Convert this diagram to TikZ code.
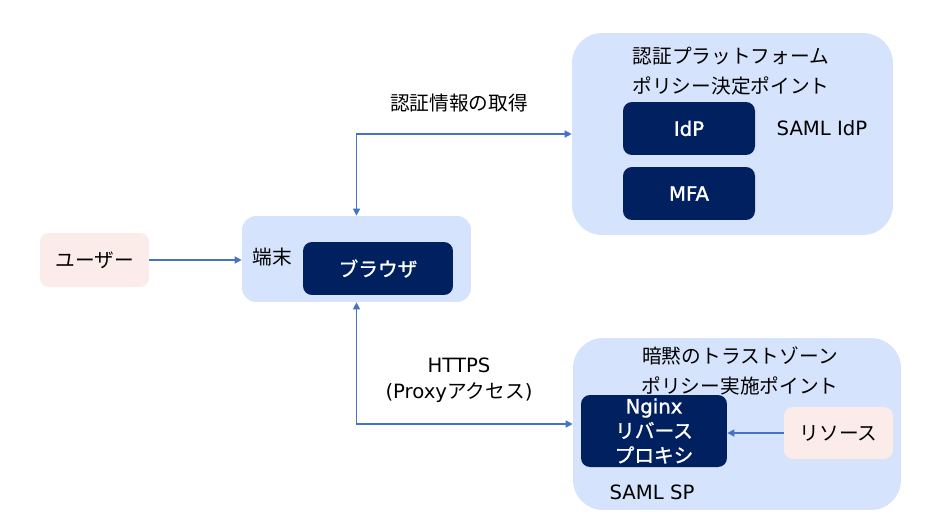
\documentclass[tikz,border=0pt]{standalone}
\usepackage{fontspec}
\setmainfont{DejaVu Sans}
\newfontfamily\jp{Noto Sans CJK JP}
\newfontfamily\navylat[FakeBold=1.5]{DejaVu Sans}
\newfontfamily\navyjp[FakeBold=1.2]{Noto Sans CJK JP}
\usepackage{tikz}
\usetikzlibrary{positioning, arrows.meta}
\usepackage{xcolor}
\definecolor{zoneblue}{RGB}{214, 227, 252}
\definecolor{navy}{RGB}{0, 32, 96}
\definecolor{pinkbg}{RGB}{251, 236, 234}
\definecolor{linkblue}{RGB}{68, 114, 196}
\newcommand{\txtsize}{\fontsize{11.2}{14}\selectfont}

\tikzset{
  zone/.style={fill=zoneblue, rounded corners=0.6cm, inner sep=0pt},
  navybox/.style={fill=navy, text=white, rounded corners=0.18cm, inner sep=0pt,
                  font=\txtsize\navylat, align=center},
  pinkbox/.style={fill=pinkbg, rounded corners=0.18cm, inner sep=0pt, font=\txtsize\jp},
  plain/.style={font=\txtsize, align=center, inner sep=1pt},
  tip/.style={-{Triangle[length=4pt, width=4pt]}},
  link/.style={draw=linkblue, line width=0.8pt, tip},
}

\begin{document}
\begin{tikzpicture}[x=0.02cm, y=-0.02cm]
  \useasboundingbox (0,0) rectangle (925,527);

  % --- zones ---
  \node[zone, minimum width=6.42cm, minimum height=4.04cm] (idpzone) at (732.5,134) {};
  \node[zone, minimum width=6.56cm, minimum height=3.44cm] (spzone) at (737,424) {};
  \node[zone, rounded corners=0.28cm, minimum width=4.58cm, minimum height=1.72cm] (term) at (356.5,259) {};

  % --- zone titles ---
  \node[plain, font=\txtsize\jp] (idptitle) at (731,71) {認証プラットフォーム\\[3pt]ポリシー決定ポイント};
  \node[plain, font=\txtsize\jp] (sptitle) at (740,371) {暗黙のトラストゾーン\\[3pt]ポリシー実施ポイント};
  \node[plain, font=\txtsize\jp] (termlabel) at (272,257) {端末};

  % --- boxes ---
  \node[pinkbox, minimum width=2.18cm, minimum height=1.08cm] (user) at (94.5,260) {ユーザー};
  \node[navybox, font=\txtsize\navyjp, minimum width=3.0cm, minimum height=1.06cm] (browser) at (378,268.5) {ブラウザ};
  \node[navybox, minimum width=2.64cm, minimum height=1.06cm] (idp) at (689,128.5) {IdP};
  \node[navybox, minimum width=2.64cm, minimum height=1.06cm] (mfa) at (689,193.5) {MFA};
  \node[navybox, minimum width=2.92cm, minimum height=1.44cm] (nginx) at (654,431)
       {Nginx\\{\navyjp リバース}\\{\navyjp プロキシ}};
  \node[pinkbox, minimum width=2.18cm, minimum height=1.04cm] (resource) at (838.5,433) {リソース};

  % --- side labels ---
  \node[plain] (samlidp) at (822,128) {SAML IdP};
  \node[plain] (samlsp) at (652,492) {SAML SP};
  \node[plain, font=\txtsize\jp] (getcred) at (459,103) {認証情報の取得};
  \node[plain] (https) at (459,380) {HTTPS\\[1pt](Proxy{\jp アクセス})};

  % --- connectors ---
  \draw[link] (user) -- (user -| term.west);
  \draw[link, {Triangle[length=4pt, width=4pt]}-{Triangle[length=4pt, width=4pt]}] (term.north) |- (idpzone.west);
  \draw[link, {Triangle[length=4pt, width=4pt]}-{Triangle[length=4pt, width=4pt]}] (term.south) |- (spzone.west);
  \draw[link] (resource) -- (resource -| nginx.east);
\end{tikzpicture}
\end{document}
